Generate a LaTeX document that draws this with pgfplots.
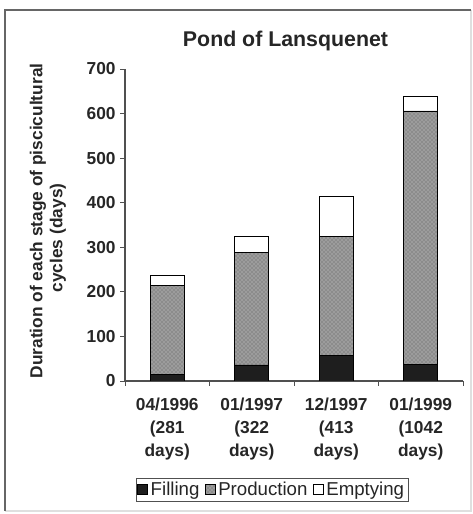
\documentclass[border=0pt]{standalone}
\usepackage{fontspec}
\setmainfont{Liberation Sans}
\usepackage{pgfplots}
\pgfplotsset{compat=1.18}
\usetikzlibrary{patterns}
\definecolor{prodgray}{HTML}{8C8C8C}
\definecolor{fillblack}{HTML}{1E1E1E}
\definecolor{axgray}{HTML}{505050}
\pgfplotsset{mysq/.style={legend image code/.code={\draw[##1] (0pt,-3.75pt) rectangle (7.5pt,3.75pt);}}}
\begin{document}
\begin{tikzpicture}[x=0.75pt,y=0.75pt]
\useasboundingbox (0,0) rectangle (473,514);
\draw[gray!25, line width=1pt] (471,504) -- (471,3) -- (5,3);
\draw[gray!80!black, line width=1.2pt] (5,3) -- (5,504) -- (471,504);
\node[anchor=base, font=\bfseries\fontsize{16}{19}\selectfont, text=black!85] at (285.5,467) {Pond of Lansquenet};
\node[rotate=90, font=\bfseries\fontsize{13}{16}\selectfont, text=black!85] at (38,293) {Duration of each stage of piscicultural};
\node[rotate=90, font=\bfseries\fontsize{13}{16}\selectfont, text=black!85] at (58,276) {cycles (days)};
\begin{axis}[
  at={(125.4375pt,99.75pt)}, anchor=origin,
  scale only axis, width=253.5pt, height=234pt,
  xmin=-0.5, xmax=3.5, ymin=0, ymax=700,
  ytick={0,100,...,700},
  xtick={-0.5,0.5,1.5,2.5,3.5},
  x tick label as interval,
  xticklabels={{04/1996\\(281\\days)},{01/1997\\(322\\days)},{12/1997\\(413\\days)},{01/1999\\(1042\\days)}},
  axis x line*=bottom, axis y line*=left,
  tick align=outside,
  major tick length=3.5pt,
  x tick style={axgray, line width=0.6pt},
  y tick style={axgray, line width=0.6pt},
  axis line style={axgray, line width=0.8pt},
  ybar stacked, bar width=0.4,
  /pgf/number format/assume math mode=true,
  yticklabel style={font=\bfseries\fontsize{13}{15}\selectfont, text=black!85},
  xticklabel style={font=\bfseries\fontsize{13}{16.9}\selectfont, align=center, text=black!85, yshift=-6pt},
  legend style={at={(axis description cs:0.435,-0.349)}, anchor=center, legend columns=3,
    draw=axgray, font=\fontsize{14}{16}\selectfont, inner sep=1pt, text=black!85,
    /tikz/every even column/.append style={column sep=2pt}},
]
\addplot[mysq, fill=fillblack, draw=black, line width=0.6pt] coordinates {(0,15) (1,36) (2,58) (3,37)};
\addplot[mysq, fill=prodgray, draw=black, line width=0.6pt, postaction={pattern=crosshatch dots, pattern color=gray!35}] coordinates {(0,199) (1,253) (2,266) (3,569)};
\addplot[mysq, fill=white, draw=black, line width=0.6pt] coordinates {(0,24) (1,35) (2,91) (3,32)};
\legend{Filling,Production,Emptying}
\end{axis}
\end{tikzpicture}
\end{document}
